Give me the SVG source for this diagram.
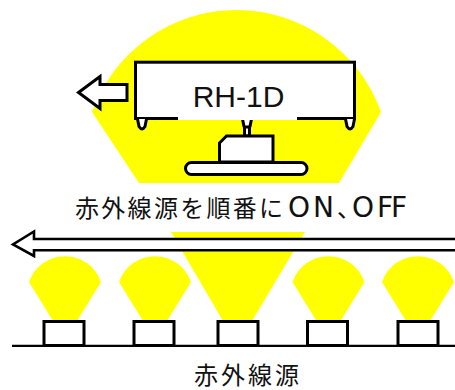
<svg xmlns="http://www.w3.org/2000/svg" width="455" height="390" viewBox="0 0 455 390">
  <style>
    .beam { fill: #ffff00; stroke: none; }
    .part { fill: #ffffff; stroke: #000000; stroke-width: 3; stroke-linejoin: miter; }
    .label { font-family: "Noto Sans CJK JP", "Noto Sans", sans-serif; fill: #111111; }
    .latin { font-family: "DejaVu Sans", "Noto Sans CJK JP", sans-serif; font-size: 28px; }
  </style>
  <defs>
    <!-- fan of light above one source, drawn around x = 0 -->
    <path id="fan" d="M -12,321 L -36,282 A 38 38 0 0 1 36,282 L 12,321 Z"/>
  </defs>

  <rect width="455" height="390" fill="#ffffff"/>

  <!-- light reaching the sensor head -->
  <g id="beam-head">
    <path class="beam" d="M 139,183 L 92,112 A 153.4 153.4 0 0 1 381,112 L 339,183 Z"/>
  </g>

  <!-- sensor head RH-1D -->
  <g id="rh-1d">
    <rect class="part" x="135.5" y="62.2" width="219" height="56.3"/>
    <path class="part" d="M 137.5,119 L 139,126.5 Q 142,131.5 145,126.5 L 146.5,119"/>
    <path class="part" d="M 242.5,119 L 244,126.5 Q 247,131.5 250,126.5 L 251.5,119"/>
    <path class="part" d="M 345.5,119 L 347,126.5 Q 350,131.5 353,126.5 L 354.5,119"/>
    <rect x="178" y="110" width="119" height="10" fill="#ffffff"/>
    <rect class="part" x="244.5" y="127" width="5" height="9"/>
    <path class="part" d="M 219.5,143 L 226.5,136 L 273,136 L 273,162 L 219.5,162 Z"/>
    <rect class="part" x="185.5" y="162.5" width="121.5" height="12" rx="6" ry="6"/>
    <text x="238.5" y="106.5" text-anchor="middle" font-family="'Liberation Sans', sans-serif" font-size="30" fill="#111111">RH-1D</text>
  </g>

  <!-- scan direction of the head -->
  <g id="connectors">
    <path class="part" d="M 78.5,92.5 L 100,76.5 L 100,84.5 L 127,84.5 L 127,100.5 L 100,100.5 L 100,108.5 Z"/>
  </g>

  <!-- light fans of the infrared sources -->
  <g id="beams">
    <use href="#fan" class="beam" x="65" y="0"/>
    <use href="#fan" class="beam" x="155" y="0"/>
    <path class="beam" d="M 171,232 L 305,232 L 252,321 L 223,321 Z"/>
    <use href="#fan" class="beam" x="328.5" y="0"/>
    <use href="#fan" class="beam" x="418" y="0"/>
  </g>

  <!-- switching sequence arrow -->
  <g id="sequence-arrow">
    <path d="M 456,239 L 34,239 L 34,231.5 L 13,244.5 L 34,256 L 34,250.3 L 456,250.3" fill="#ffffff" stroke="#000000" stroke-width="2.6" stroke-linejoin="miter"/>
  </g>

  <text class="label" y="217" font-size="24">
    <tspan x="75" letter-spacing="2.3">赤外線源を順番に</tspan><tspan class="latin" x="288 313">ON</tspan><tspan x="337" letter-spacing="-11">、</tspan><tspan class="latin" x="352 377 391">OFF</tspan>
  </text>

  <!-- infrared sources on the base line -->
  <g id="sources">
    <line x1="12" y1="345.8" x2="455" y2="345.8" stroke="#000000" stroke-width="2.2"/>
    <g id="source-1"><rect class="part" x="44" y="321.5" width="40" height="24"/></g>
    <g id="source-2"><rect class="part" x="134" y="321.5" width="40" height="24"/></g>
    <g id="source-3"><rect class="part" x="218" y="321.5" width="40" height="24"/></g>
    <g id="source-4"><rect class="part" x="307.5" y="321.5" width="40" height="24"/></g>
    <g id="source-5"><rect class="part" x="398" y="321.5" width="40" height="24"/></g>
  </g>

  <text class="label" x="194" y="383.5" font-size="24" letter-spacing="3">赤外線源</text>
</svg>
